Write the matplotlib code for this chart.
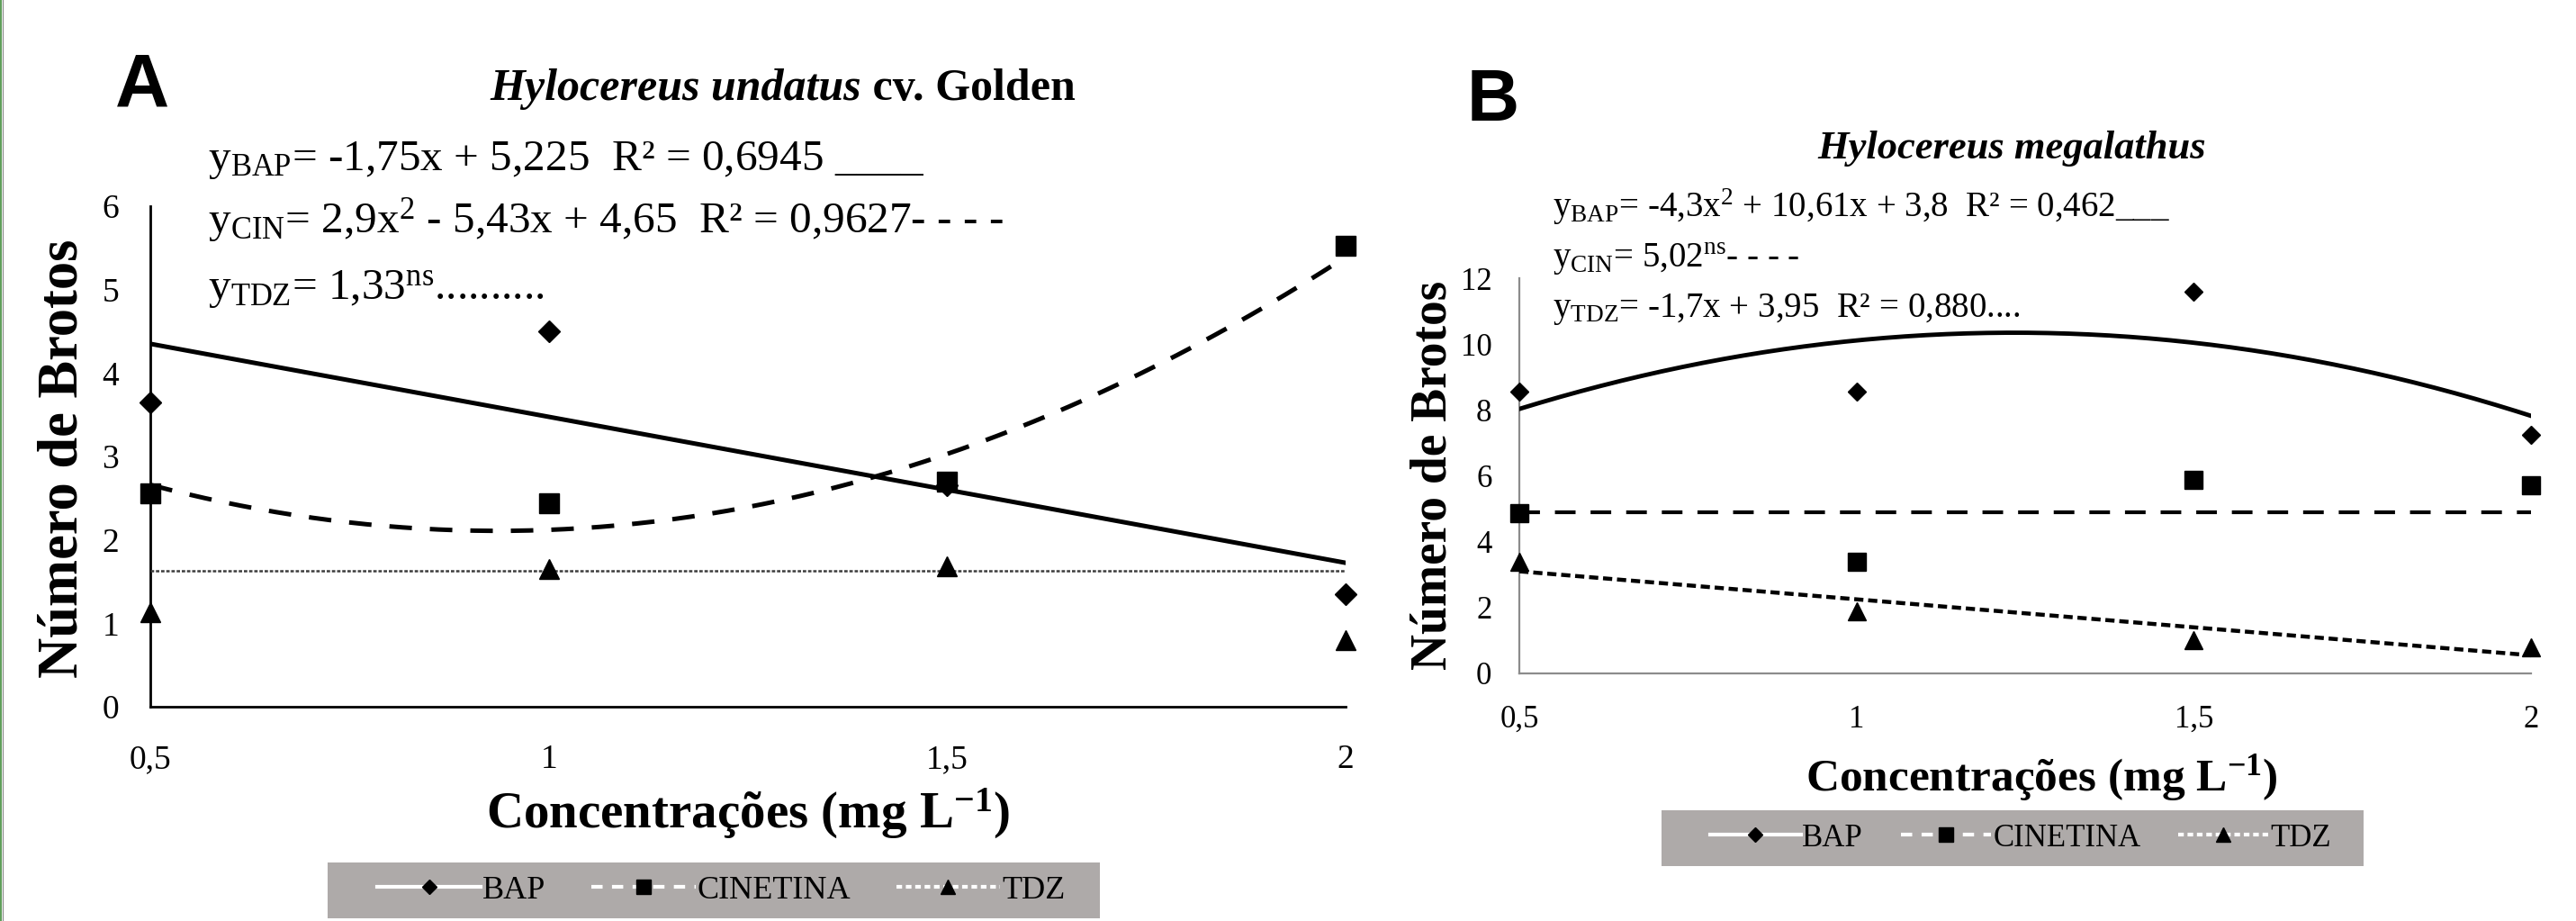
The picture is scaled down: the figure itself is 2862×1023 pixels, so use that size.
import numpy as np
import matplotlib
matplotlib.use('Agg')
import matplotlib.pyplot as plt
from matplotlib.lines import Line2D
from matplotlib.patches import Rectangle

W, H = 2862, 1023

# concentrations (mg L-1)
conc = [0.5, 1, 1.5, 2]
conc_labels = ['0,5', '1', '1,5', '2']

# Panel A - Hylocereus undatus cv. Golden
a_bap = [3.65, 4.5, 2.65, 1.35]
a_cin = [2.56, 2.44, 2.7, 5.53]
a_tdz = [1.13, 1.65, 1.68, 0.8]
a_bap_coef = [-1.75, 5.225]
a_cin_coef = [2.9, -5.43, 4.65]
a_tdz_level = 1.63

# Panel B - Hylocereus megalathus
b_bap = [8.55, 8.55, 11.6, 7.25]
b_cin = [4.87, 3.39, 5.88, 5.71]
b_tdz = [3.39, 1.88, 1.0, 0.8]
b_bap_coef = [-4.3, 10.61, 3.8]
b_cin_level = 4.9
b_tdz_coef = [-1.7, 3.95]

a_equations = [r'y$_{\mathrm{BAP}}$= -1,75x + 5,225  R² = 0,6945 ____',
               r'y$_{\mathrm{CIN}}$= 2,9x$^{2}$ - 5,43x + 4,65  R² = 0,9627- - - -',
               r'y$_{\mathrm{TDZ}}$= 1,33$^{\mathrm{ns}}$..........']
b_equations = [r'y$_{\mathrm{BAP}}$= -4,3x$^{2}$ + 10,61x + 3,8  R² = 0,462___',
               r'y$_{\mathrm{CIN}}$= 5,02$^{\mathrm{ns}}$- - - -',
               r'y$_{\mathrm{TDZ}}$= -1,7x + 3,95  R² = 0,880....']

plt.rcParams['font.family'] = ['Liberation Serif', 'DejaVu Serif']
plt.rcParams['mathtext.fontset'] = 'custom'
plt.rcParams['mathtext.rm'] = 'Liberation Serif'
plt.rcParams['mathtext.it'] = 'Liberation Serif:italic'
plt.rcParams['mathtext.bf'] = 'Liberation Serif:bold'

LEGEND_GRAY = '#aeaaa9'


def px(x, y):
    # pixel position in the reference -> figure fraction
    return x / W, 1 - y / H


def axes_rect(left, top, right, bottom):
    return [left / W, 1 - bottom / H, (right - left) / W, (bottom - top) / H]


def setup_axes(ax, ymax, ystep, spine_color, spine_lw, fs, xpad, ypad):
    ax.set_xlim(0.5, 2)
    ax.set_ylim(0, ymax)
    ax.set_xticks(conc)
    ax.set_xticklabels(conc_labels)
    ax.set_yticks(np.arange(0, ymax + 0.1, ystep))
    ax.tick_params(axis='both', length=0, labelsize=fs)
    ax.tick_params(axis='x', pad=xpad)
    ax.tick_params(axis='y', pad=ypad)
    for side in ['top', 'right']:
        ax.spines[side].set_visible(False)
    for side in ['left', 'bottom']:
        ax.spines[side].set_color(spine_color)
        ax.spines[side].set_linewidth(spine_lw)


def draw_points(ax, bap, cin, tdz, ms):
    ax.plot(conc, bap, 'D', color='black', ms=ms * 0.76, ls='none', clip_on=False, zorder=4)
    ax.plot(conc, cin, 's', color='black', ms=ms, ls='none', clip_on=False, zorder=4)
    ax.plot(conc, tdz, '^', color='black', ms=ms, ls='none', clip_on=False, zorder=4)


def add_legend(fig, box, center, fs, hl, cs):
    # gray box behind the legend entries
    x0, y0, x1, y1 = box
    fig.patches.append(Rectangle(px(x0, y1), (x1 - x0) / W, (y1 - y0) / H,
                                 transform=fig.transFigure, facecolor=LEGEND_GRAY,
                                 edgecolor='none', zorder=0))
    handles = [
        Line2D([], [], color='white', lw=3, ls='-', marker='D', ms=8, mfc='black', mec='black'),
        Line2D([], [], color='white', lw=3, ls=(0, (3, 2.5)), marker='s', ms=11, mfc='black', mec='black'),
        Line2D([], [], color='white', lw=3, ls=(0, (1.5, 1)), marker='^', ms=11, mfc='black', mec='black'),
    ]
    leg = fig.legend(handles, ['BAP', 'CINETINA', 'TDZ'], loc='center', bbox_to_anchor=px(*center),
                     ncol=3, fontsize=fs, frameon=False, handlelength=hl, handletextpad=0.05,
                     columnspacing=cs, borderpad=0.2, borderaxespad=0)
    return leg


fig = plt.figure(figsize=(W / 100, H / 100), dpi=100)
xs = np.linspace(0.5, 2, 200)

# ---------------- Panel A ----------------
axA = fig.add_axes(axes_rect(167, 229, 1495, 785))
setup_axes(axA, 6, 1, 'black', 2.0, 27, 30, 25)
axA.plot(xs, np.polyval(a_bap_coef, xs), color='black', lw=3.6, zorder=3)
axA.plot(xs, np.polyval(a_cin_coef, xs), color='black', lw=3.6, ls=(0, (5, 4)), zorder=3)
axA.axhline(a_tdz_level, color='#3c3c3c', lw=1.8, ls=(0, (1.5, 0.8)), zorder=3)
draw_points(axA, a_bap, a_cin, a_tdz, 16)
axA.set_xlabel('Concentrações (mg L$^{\\mathbf{-1}}$)', fontsize=41, fontweight='bold')
axA.xaxis.set_label_coords(*px(831, 874), transform=fig.transFigure)
axA.set_ylabel('Número de Brotos', fontsize=45, fontweight='bold')
axA.yaxis.set_label_coords(*px(100, 509), transform=fig.transFigure)

fig.text(*px(128, 119), 'A', family='Liberation Sans', fontweight='bold', fontsize=60, va='baseline')
tA = fig.text(*px(544, 111), 'Hylocereus undatus', fontsize=36, fontweight='bold', style='italic', va='baseline')
axA.annotate(' cv. Golden', xy=(1, 0), xycoords=tA, va='bottom', ha='left', fontsize=36,
             fontweight='bold', annotation_clip=False)
for eq, y in zip(a_equations, [189, 258, 333]):
    fig.text(*px(231, y), eq, fontsize=35.5, va='baseline')
add_legend(fig, (364, 958, 1222, 1020), (801, 989), 26, 3.2, 1.4)

# ---------------- Panel B ----------------
axB = fig.add_axes(axes_rect(1688, 309, 2812, 748))
setup_axes(axB, 12, 2, '#8c8c8c', 1.6, 25, 25, 22)
axB.plot(xs, np.polyval(b_bap_coef, xs), color='black', lw=3.5, zorder=3)
axB.axhline(b_cin_level, color='black', lw=3, ls=(0, (5.5, 4)), zorder=3)
axB.plot(xs, np.polyval(b_tdz_coef, xs), color='black', lw=3.2, ls=(0, (2.3, 1.2)), zorder=3)
draw_points(axB, b_bap, b_cin, b_tdz, 14)
axB.set_xlabel('Concentrações (mg L$^{\\mathbf{-1}}$)', fontsize=37, fontweight='bold')
axB.xaxis.set_label_coords(*px(2268, 836), transform=fig.transFigure)
axB.set_ylabel('Número de Brotos', fontsize=40, fontweight='bold')
axB.yaxis.set_label_coords(*px(1618, 528), transform=fig.transFigure)

fig.text(*px(1630, 134), 'B', family='Liberation Sans', fontweight='bold', fontsize=58, va='baseline')
fig.text(*px(2019, 176), 'Hylocereus megalathus', fontsize=32, fontweight='bold', style='italic', va='baseline')
for eq, y in zip(b_equations, [241, 297, 352]):
    fig.text(*px(1725, y), eq, fontsize=28, va='baseline')
add_legend(fig, (1846, 900, 2626, 962), (2245, 931), 25, 2.9, 1.2)

# thin frame line on the left edge
fig.add_artist(Line2D([0.0004, 0.0004], [0, 1], transform=fig.transFigure, color='#5f9e5a', lw=1.5))
fig.add_artist(Line2D([0.0009, 0.0009], [0, 1], transform=fig.transFigure, color='#8a8a8a', lw=0.8))

fig.savefig('out.png', dpi=100)
